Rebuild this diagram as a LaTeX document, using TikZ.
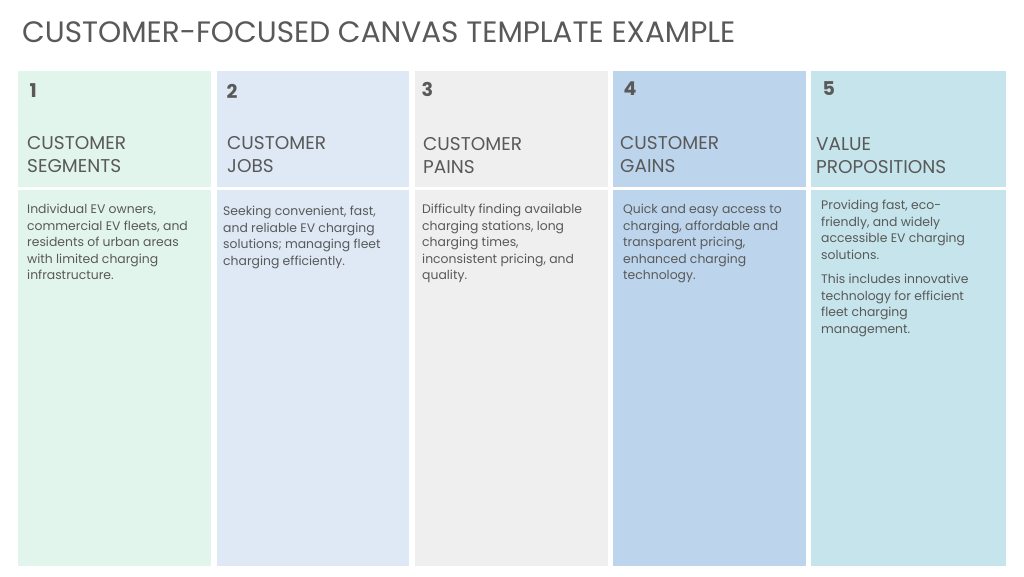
\documentclass[tikz,border=0pt]{standalone}
\usepackage{fontspec}
\setmainfont{Poppins}
\definecolor{tx}{HTML}{595959}
\definecolor{c1}{HTML}{E2F5EC}
\definecolor{c2}{HTML}{DEE9F5}
\definecolor{c3}{HTML}{EFEFEF}
\definecolor{c4}{HTML}{BDD5EC}
\definecolor{c5}{HTML}{C6E4EB}
\begin{document}
\begin{tikzpicture}[x=1pt,y=-1pt,
  num/.style={anchor=west,text=tx,font=\fontsize{19}{22}\selectfont\bfseries},
  head/.style={anchor=north west,text=tx,align=left,font=\fontsize{18.5}{23}\selectfont,inner sep=0},
  body/.style={anchor=north west,text=tx,align=left,font=\fontsize{12.4}{16.5}\selectfont,inner sep=0}]
\useasboundingbox[fill=white] (0,0) rectangle (1024,576);
\node[anchor=west,text=tx,font=\fontsize{29.5}{32}\selectfont,inner sep=0] (title) at (22,32) {CUSTOMER-FOCUSED CANVAS TEMPLATE EXAMPLE};
\foreach \i/\x/\w/\c in {1/18/193/c1,2/217/192/c2,3/415/193/c3,4/613/193/c4,5/811/195/c5}{
  \fill[\c] (\x,71) rectangle ++(\w,116);
  \fill[\c] (\x,190) rectangle ++(\w,376);
}
\node[num] (n1) at (26,91) {1};
\node[num] (n2) at (223,91) {2};
\node[num] (n3) at (418,89) {3};
\node[num] (n4) at (620,89) {4};
\node[num] (n5) at (819,89) {5};
\node[head] (h1) at (27,136) {CUSTOMER\\SEGMENTS};
\node[head] (h2) at (227,136) {CUSTOMER\\JOBS};
\node[head] (h3) at (423,137) {CUSTOMER\\PAINS};
\node[head] (h4) at (620,136) {CUSTOMER\\GAINS};
\node[head] (h5) at (816,137) {VALUE\\PROPOSITIONS};
\node[body] (b1) at (27,204) {Individual EV owners,\\commercial EV fleets, and\\residents of urban areas\\with limited charging\\infrastructure.};
\node[body] (b2) at (223,206) {Seeking convenient, fast,\\and reliable EV charging\\solutions; managing fleet\\charging efficiently.};
\node[body] (b3) at (422,204) {Difficulty finding available\\charging stations, long\\charging times,\\inconsistent pricing, and\\quality.};
\node[body] (b4) at (623,204) {Quick and easy access to\\charging, affordable and\\transparent pricing,\\enhanced charging\\technology.};
\node[body] (b5) at (821,200) {Providing fast, eco-\\friendly, and widely\\accessible EV charging\\solutions.};
\node[body] (b6) at (821,274) {This includes innovative\\technology for efficient\\fleet charging\\management.};
\end{tikzpicture}
\end{document}
